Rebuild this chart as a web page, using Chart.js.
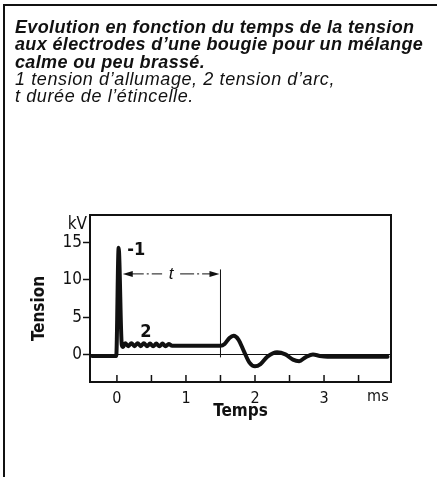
<!DOCTYPE html>
<html>
<head>
<meta charset="utf-8">
<script src="https://cdn.jsdelivr.net/npm/chart.js@4.4.1/dist/chart.umd.min.js"></script>
<style>
  html, body { margin: 0; padding: 0; background: #fff; }
  #frame {
    position: absolute; left: 3px; top: 4px; width: 434px; height: 473px;
    border-top: 2px solid #111; border-left: 2px solid #111;
  }
  #caption {
    position: absolute; left: 15px; top: 19px; z-index: 2;
    font-family: "Liberation Sans", Arial, sans-serif; font-size: 18px;
    line-height: 17.3px; color: #111; font-style: italic; letter-spacing: 0.6px;
  }
  #caption b { font-weight: bold; letter-spacing: 0.35px; }
  #chart { position: absolute; left: 0; top: 0; }
</style>
</head>
<body>
<div id="frame"></div>
<div id="caption">
  <b>Evolution en fonction du temps de la tension<br>
  aux électrodes d’une bougie pour un mélange<br>
  calme ou peu brassé.</b><br>
  1 tension d’allumage, 2 tension d’arc,<br>
  t durée de l’étincelle.
</div>
<canvas id="chart" width="437" height="477"></canvas>
<script>
// courbe tension / temps
const timeMs = [-0.36, -0.01, 0.025, 0.07, 0.09,
  0.12, 0.165, 0.21, 0.255, 0.30, 0.345, 0.39, 0.435, 0.48, 0.525, 0.57, 0.615, 0.66, 0.705, 0.75, 0.80,
  1.0, 1.5, 1.56, 1.63, 1.69, 1.76, 1.84, 1.92, 2.0, 2.08, 2.18, 2.32, 2.44, 2.55, 2.64, 2.73, 2.84, 2.94, 3.05, 3.92];
const tensionKv = [-0.2, -0.2, 14.3, 1.3, 1.0,
  1.5, 1.1, 1.5, 1.1, 1.5, 1.1, 1.5, 1.1, 1.45, 1.1, 1.45, 1.1, 1.45, 1.1, 1.4, 1.15,
  1.15, 1.15, 1.4, 2.2, 2.5, 2.0, 0.4, -1.1, -1.6, -1.3, -0.3, 0.3, 0.0, -0.7, -0.9, -0.4, 0.0, -0.2, -0.3, -0.3];

const xTickValues = [0, 0.5, 1, 1.5, 2, 2.5, 3, 3.5];
const xTickLabels = ['0', '', '1', '', '2', '', '3', ''];
const yTickValues = [0, 5, 10, 15];
const yTickLabels = ['0', '5', '10', '15'];

// repères : durée t de l'étincelle (ms) et hauteur de la cote (kV)
const sparkStartMs = 0.07;
const sparkEndMs = 1.5;
const dimLineKv = 10.8;
const dimTopKv = 11.4;
const dimBottomKv = -0.4;
const markLabels = [
  { text: '-1', x: 0.28, y: 13.9 },
  { text: '2', x: 0.42, y: 2.9 }
];

const narrow = '"Liberation Sans Narrow", "DejaVu Sans Condensed", "Liberation Sans", sans-serif';

const annotations = {
  id: 'annotations',
  afterDatasetsDraw(chart) {
    const { ctx, chartArea: a, scales: { x, y } } = chart;
    ctx.save();
    ctx.strokeStyle = '#111';
    ctx.fillStyle = '#111';

    // petits traits de graduation internes en bas
    ctx.lineWidth = 1.5;
    x.ticks.forEach(t => {
      const px = x.getPixelForValue(t.value);
      ctx.beginPath();
      ctx.moveTo(px, a.bottom);
      ctx.lineTo(px, a.bottom - 7);
      ctx.stroke();
    });

    // cadre
    ctx.lineWidth = 2;
    ctx.strokeRect(a.left, a.top, a.right - a.left, a.bottom - a.top);

    // cote t
    const x1 = x.getPixelForValue(sparkStartMs);
    const x2 = x.getPixelForValue(sparkEndMs);
    const yd = y.getPixelForValue(dimLineKv);
    ctx.lineWidth = 1;
    ctx.beginPath();
    ctx.moveTo(x2, y.getPixelForValue(dimTopKv));
    ctx.lineTo(x2, y.getPixelForValue(dimBottomKv));
    ctx.stroke();

    const xm = (x1 + x2) / 2;
    ctx.setLineDash([14, 3, 2, 3]);
    ctx.beginPath();
    ctx.moveTo(x1 + 8, yd); ctx.lineTo(xm - 9, yd);
    ctx.moveTo(xm + 9, yd); ctx.lineTo(x2 - 8, yd);
    ctx.stroke();
    ctx.setLineDash([]);
    ctx.beginPath();
    ctx.moveTo(x1 + 1, yd); ctx.lineTo(x1 + 11, yd - 3); ctx.lineTo(x1 + 11, yd + 3); ctx.closePath();
    ctx.moveTo(x2 - 1, yd); ctx.lineTo(x2 - 11, yd - 3); ctx.lineTo(x2 - 11, yd + 3); ctx.closePath();
    ctx.fill();

    ctx.textAlign = 'center';
    ctx.textBaseline = 'middle';
    ctx.font = 'italic 17px "Liberation Sans", sans-serif';
    ctx.fillText('t', xm, yd);

    ctx.font = 'bold 18px ' + narrow;
    markLabels.forEach(m => {
      ctx.fillText(m.text, x.getPixelForValue(m.x), y.getPixelForValue(m.y));
    });

    // titre de l'axe vertical
    ctx.save();
    ctx.translate(a.left - 50, (a.top + a.bottom) / 2 + 10);
    ctx.rotate(-Math.PI / 2);
    ctx.font = 'bold 17px ' + narrow;
    ctx.fillText('Tension', 0, 0);
    ctx.restore();

    // unités
    ctx.font = '17px ' + narrow;
    ctx.textAlign = 'right';
    ctx.fillText('kV', a.left - 3, a.top + 10);
    ctx.textAlign = 'center';
    ctx.textBaseline = 'top';
    ctx.font = '16px ' + narrow;
    ctx.fillText('ms', x.getPixelForValue(3.78), a.bottom + 7);
    ctx.restore();
  }
};

new Chart(document.getElementById('chart'), {
  type: 'line',
  data: {
    datasets: [{
      label: 'Tension',
      data: timeMs.map((t, i) => ({ x: t, y: tensionKv[i] })),
      borderColor: '#111',
      borderWidth: 4,
      pointRadius: 0,
      cubicInterpolationMode: 'monotone',
      borderJoinStyle: 'round',
      borderCapStyle: 'round',
      fill: false
    }]
  },
  options: {
    responsive: false,
    animation: false,
    devicePixelRatio: 1,
    layout: { padding: { left: 30, top: 215, right: 46, bottom: 55 } },
    plugins: { legend: { display: false }, tooltip: { enabled: false } },
    scales: {
      x: {
        type: 'linear',
        min: -0.39,
        max: 3.97,
        afterBuildTicks: axis => { axis.ticks = xTickValues.map(v => ({ value: v })); },
        afterFit: axis => { axis.height = 40; },
        border: { display: false },
        grid: { drawOnChartArea: false, drawTicks: false },
        ticks: {
          padding: 7,
          color: '#111',
          font: { family: narrow, size: 16 },
          maxRotation: 0,
          autoSkip: false,
          callback: (v, i) => xTickLabels[i]
        },
        title: {
          display: true,
          text: 'Temps',
          color: '#111',
          padding: 0,
          font: { family: narrow, size: 17, weight: 'bold' }
        }
      },
      y: {
        min: -3.7,
        max: 18.7,
        afterBuildTicks: axis => { axis.ticks = yTickValues.map(v => ({ value: v })); },
        afterFit: axis => { axis.width = 60; },
        border: { display: false },
        grid: {
          color: c => (c.tick && c.tick.value === 0 ? '#111' : 'rgba(0,0,0,0)'),
          lineWidth: 1,
          tickColor: '#111',
          tickWidth: 1.5,
          tickLength: 7
        },
        ticks: {
          padding: 1,
          color: '#111',
          font: { family: narrow, size: 17 },
          callback: (v, i) => yTickLabels[i]
        },
        title: { display: false, text: 'Tension' }
      }
    }
  },
  plugins: [annotations]
});
</script>
</body>
</html>
